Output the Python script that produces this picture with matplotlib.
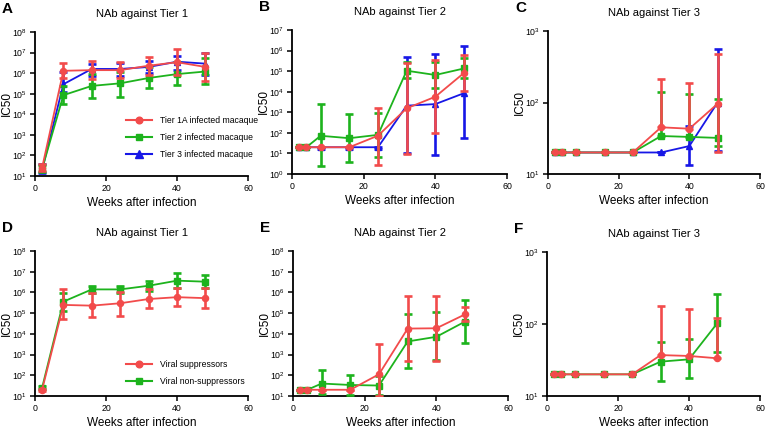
import numpy as np
import matplotlib
matplotlib.use('Agg')
import matplotlib.pyplot as plt
from matplotlib.lines import Line2D

plt.rcParams['font.family'] = ['Liberation Sans', 'DejaVu Sans']
plt.rcParams['mathtext.fontset'] = 'custom'
plt.rcParams['mathtext.rm'] = 'Liberation Sans'
plt.rcParams['mathtext.default'] = 'regular'

RED = '#f24b4b'
GREEN = '#1db31d'
BLUE = '#1717e6'

# ---- data ----
weeks_a = [2, 8, 16, 24, 32, 40, 48]
weeks = [2, 4, 8, 16, 24, 32, 40, 48]

# Panel A - NAb against Tier 1 (by infecting virus tier)
a_red = [25, 1.3e6, 1.4e6, 1.4e6, 2.3e6, 3.4e6, 2.0e6]
a_red_lo = [18, 5.6e5, 5e5, 5.6e5, 8e5, 8e5, 4.3e5]
a_red_hi = [38, 3.1e6, 3.7e6, 3.3e6, 6e6, 1.5e7, 1e7]
a_green = [22, 8.5e4, 2.4e5, 3.2e5, 5.8e5, 9e5, 1.2e6]
a_green_lo = [15, 3e4, 6e4, 6.8e4, 1.9e5, 2.6e5, 2.9e5]
a_green_hi = [35, 2.5e5, 9e5, 1.1e6, 2e6, 3.3e6, 5.4e6]
a_blue = [20, 2.9e5, 1.6e6, 1.6e6, 2.0e6, 3.6e6, 2.9e6]
a_blue_lo = [14, 1.2e5, 7e5, 7e5, 1e6, 1.5e6, 8e5]
a_blue_hi = [40, 1.1e6, 2.8e6, 3e6, 4e6, 7e6, 1e7]

# Panel B - NAb against Tier 2
b_red = [20, 20, 20, 20, 73, 1.56e3, 5.7e3, 8.2e4]
b_red_lo = [20, 20, 20, 20, 2.8, 9.4, 100, 1.1e4]
b_red_hi = [20, 20, 20, 20, 1.6e3, 2.4e5, 3.5e5, 6.1e5]
b_green = [20, 20, 72, 55, 80, 1.05e5, 6.5e4, 1.35e5]
b_green_lo = [20, 20, 2.4, 3.8, 6.9, 4.4e4, 1.6e4, 4.5e4]
b_green_hi = [20, 20, 2.6e3, 840, 950, 2.9e5, 2.9e5, 4.2e5]
b_blue = [20, 20, 20, 20, 20, 2.1e3, 2.5e3, 8.5e3]
b_blue_lo = [20, 20, 17, 17, 17, 10, 8.4, 54]
b_blue_hi = [20, 20, 20, 20, 20, 5e5, 6.6e5, 1.7e6]

# Panel C - NAb against Tier 3
c_red = [20, 20, 20, 20, 20, 45, 43, 96]
c_red_lo = [20, 20, 20, 20, 20, 45, 43, 20]
c_red_hi = [20, 20, 20, 20, 20, 213, 190, 480]
c_green = [20, 20, 20, 20, 20, 34, 33, 32]
c_green_lo = [20, 20, 20, 20, 20, 34, 33, 25]
c_green_hi = [20, 20, 20, 20, 20, 139, 131, 113]
c_blue = [20, 20, 20, 20, 20, 20, 24.6, 100]
c_blue_lo = [20, 20, 20, 20, 20, 20, 13.4, 21]
c_blue_hi = [20, 20, 20, 20, 20, 20, 47, 560]

# Panel D - NAb against Tier 1 (by viral control)
d_red = [20, 2.5e5, 2.3e5, 3e5, 4.8e5, 5.9e5, 5.3e5]
d_red_lo = [18, 5.3e4, 6.3e4, 7.6e4, 1.8e5, 2.1e5, 1.8e5]
d_red_hi = [23, 1.4e6, 9.6e5, 1e6, 1.5e6, 1.7e6, 1.7e6]
d_green = [25, 3.6e5, 1.4e6, 1.4e6, 2.1e6, 3.7e6, 3.3e6]
d_green_lo = [22, 1.3e5, 9.6e5, 9.6e5, 1.2e6, 1.7e6, 1.6e6]
d_green_hi = [29, 9e5, 2.1e6, 2e6, 3.5e6, 8.5e6, 6.6e6]

# Panel E - NAb against Tier 2
e_red = [20, 20, 20, 20, 112, 1.8e4, 1.86e4, 8.7e4]
e_red_lo = [20, 20, 20, 20, 10, 500, 500, 4.3e4]
e_red_hi = [20, 20, 20, 20, 3.2e3, 6.5e5, 6.9e5, 2e5]
e_green = [20, 20, 40, 34, 32, 4.3e3, 7.2e3, 3.9e4]
e_green_lo = [20, 20, 13, 11, 11, 220, 540, 3.5e3]
e_green_hi = [20, 20, 175, 108, 90, 9e4, 1.1e5, 4.4e5]

# Panel F - NAb against Tier 3
f_red = [20, 20, 20, 20, 20, 37, 36, 33.4]
f_red_lo = [20, 20, 20, 20, 20, 37, 36, 33.4]
f_red_hi = [20, 20, 20, 20, 20, 179, 162, 120]
f_green = [20, 20, 20, 20, 20, 30, 32.3, 103]
f_green_lo = [20, 20, 20, 20, 20, 16.2, 17.6, 41]
f_green_hi = [20, 20, 20, 20, 20, 56, 61, 260]

legend_top = ['Tier 1A infected macaque', 'Tier 2 infected macaque',
              'Tier 3 infected macaque']
legend_bottom = ['Viral suppressors', 'Viral non-suppressors']


def marker_size(marker):
    return 4.8 if marker == '^' else 4.4


def series(ax, x, y, lo, hi, color, marker, z=2):
    y = np.array(y, dtype=float)
    yerr = [y - np.array(lo, dtype=float), np.array(hi, dtype=float) - y]
    ax.errorbar(x, y, yerr=yerr, color=color, marker=marker,
                ms=marker_size(marker), lw=1.3, elinewidth=1.9, capsize=2.6,
                capthick=1.9, zorder=z)


def add_legend(ax, labels, colors, markers, anchor):
    handles = [Line2D([], [], color=c, marker=m, ms=marker_size(m) + 0.4, lw=1.5)
               for c, m in zip(colors, markers)]
    ax.legend(handles, labels, loc='upper left', bbox_to_anchor=anchor,
              frameon=False, fontsize=6.2, handlelength=3.0, labelspacing=0.95,
              handletextpad=1.0)


def style(ax, title, ylo, yhi, letter, width_px):
    ax.set_yscale('log')
    ax.set_ylim(ylo, yhi)
    ax.set_xlim(0, 60)
    ax.set_xticks([0, 20, 40, 60])
    ax.set_yticks([10.0 ** k for k in range(int(np.log10(ylo)), int(np.log10(yhi)) + 1)])
    ax.yaxis.set_minor_locator(matplotlib.ticker.NullLocator())
    for s in ['top', 'right']:
        ax.spines[s].set_visible(False)
    for s in ['left', 'bottom']:
        ax.spines[s].set_linewidth(1.3)
    ax.tick_params(labelsize=6.3, length=3.5, width=1.1, pad=2)
    ax.set_title(title, fontsize=8, pad=11)
    ax.set_xlabel('Weeks after infection', fontsize=8.5, labelpad=3)
    ax.set_ylabel('IC50', fontsize=8.5)
    ax.yaxis.set_label_coords(-22.5 / width_px, 0.5)
    ax.text(-0.155, 1.21, letter, transform=ax.transAxes, fontsize=11,
            fontweight='bold', va='top', ha='left')


fig = plt.figure(figsize=(7.68, 4.38), dpi=100)

# axes boxes in pixels: left, right, top, bottom
boxes = [(35, 248, 32, 176), (292, 507, 30, 174), (548, 760, 31, 174),
         (35, 248, 251, 396), (293, 508, 251, 396), (547, 760, 252, 396)]
axes = []
widths = []
for l, r, t, b in boxes:
    axes.append(fig.add_axes([l / 768, (438 - b) / 438, (r - l) / 768, (b - t) / 438]))
    widths.append(r - l)
axA, axB, axC, axD, axE, axF = axes

# A
series(axA, weeks_a, a_blue, a_blue_lo, a_blue_hi, BLUE, '^', 2)
series(axA, weeks_a, a_green, a_green_lo, a_green_hi, GREEN, 's', 3)
series(axA, weeks_a, a_red, a_red_lo, a_red_hi, RED, 'o', 4)
style(axA, 'NAb against Tier 1', 1e1, 1e8, 'A', widths[0])
add_legend(axA, legend_top, [RED, GREEN, BLUE], ['o', 's', '^'], (0.39, 0.47))

# B
series(axB, weeks, b_blue, b_blue_lo, b_blue_hi, BLUE, '^', 2)
series(axB, weeks, b_green, b_green_lo, b_green_hi, GREEN, 's', 3)
series(axB, weeks, b_red, b_red_lo, b_red_hi, RED, 'o', 4)
style(axB, 'NAb against Tier 2', 1e0, 1e7, 'B', widths[1])

# C
series(axC, weeks, c_blue, c_blue_lo, c_blue_hi, BLUE, '^', 2)
series(axC, weeks, c_green, c_green_lo, c_green_hi, GREEN, 's', 3)
series(axC, weeks, c_red, c_red_lo, c_red_hi, RED, 'o', 4)
style(axC, 'NAb against Tier 3', 1e1, 1e3, 'C', widths[2])

# D
series(axD, weeks_a, d_green, d_green_lo, d_green_hi, GREEN, 's', 3)
series(axD, weeks_a, d_red, d_red_lo, d_red_hi, RED, 'o', 4)
style(axD, 'NAb against Tier 1', 1e1, 1e8, 'D', widths[3])
add_legend(axD, legend_bottom, [RED, GREEN], ['o', 's'], (0.39, 0.3))

# E
series(axE, weeks, e_green, e_green_lo, e_green_hi, GREEN, 's', 3)
series(axE, weeks, e_red, e_red_lo, e_red_hi, RED, 'o', 4)
style(axE, 'NAb against Tier 2', 1e1, 1e8, 'E', widths[4])

# F
series(axF, weeks, f_green, f_green_lo, f_green_hi, GREEN, 's', 3)
series(axF, weeks, f_red, f_red_lo, f_red_hi, RED, 'o', 4)
style(axF, 'NAb against Tier 3', 1e1, 1e3, 'F', widths[5])

fig.savefig('out.png', dpi=100)
